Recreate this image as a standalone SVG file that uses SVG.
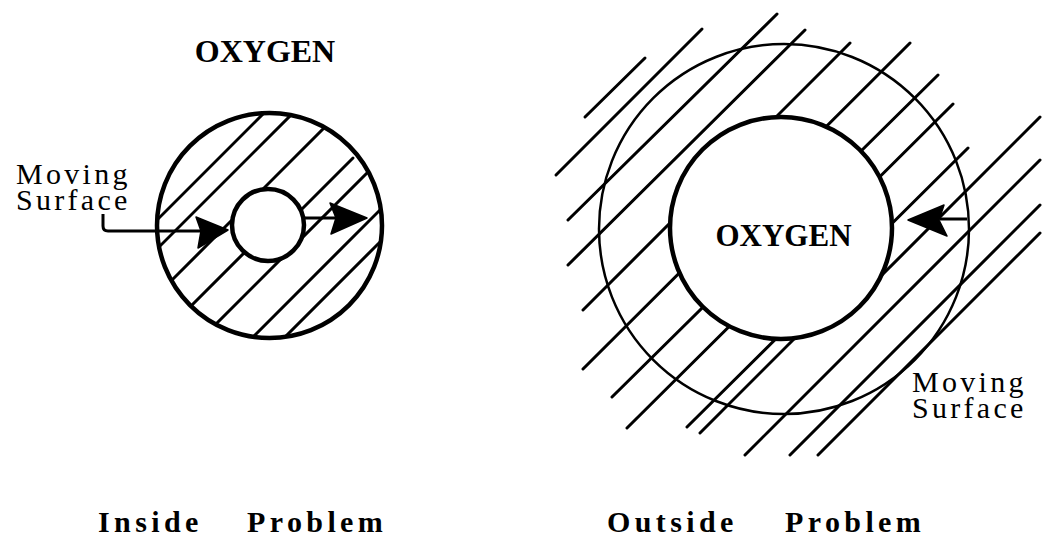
<svg xmlns="http://www.w3.org/2000/svg" width="1046" height="537" viewBox="0 0 1046 537">
<style>
.bg{fill:#fff}
.thick{fill:none;stroke:#000;stroke-width:4.5}
.thickw{fill:#fff;stroke:#000;stroke-width:4.5}
.thin{fill:none;stroke:#000;stroke-width:2.5}
.hatch{stroke:#000;stroke-width:3;stroke-linecap:round;fill:none}
.lead{stroke:#000;stroke-width:3;fill:none}
.head{fill:#000;stroke:#000;stroke-width:1.5;stroke-linejoin:round}
.ox{font-family:"Liberation Serif","Times New Roman",serif;font-weight:bold;font-size:32px;fill:#000}
.ms{font-family:"Liberation Serif","Times New Roman",serif;font-size:30px;letter-spacing:3.3px;fill:#000}
.cap{font-family:"Liberation Serif","Times New Roman",serif;font-weight:bold;font-size:30px;letter-spacing:4.4px;fill:#000}
</style>
<defs>
<clipPath id="clipL"><circle cx="269.5" cy="225.5" r="112.5"/></clipPath>
</defs>
<rect class="bg" x="0" y="0" width="1046" height="537"/>

<g id="inside-problem">
  <g id="inside-hatch" clip-path="url(#clipL)">
    <line class="hatch" x1="140" y1="237" x2="280" y2="97"/>
    <line class="hatch" x1="140" y1="266" x2="300" y2="106"/>
    <line class="hatch" x1="140" y1="312" x2="340" y2="112"/>
    <line class="hatch" x1="170" y1="327" x2="270" y2="227"/>
    <line class="hatch" x1="280" y1="231" x2="353" y2="158"/>
    <line class="hatch" x1="200" y1="340" x2="380" y2="160"/>
    <line class="hatch" x1="230" y1="360" x2="400" y2="190"/>
    <line class="hatch" x1="260" y1="362" x2="400" y2="222"/>
  </g>
  <circle id="inside-outer" class="thick" cx="269.5" cy="225.5" r="112.5"/>
  <circle id="inside-oxygen-core" class="thickw" cx="268" cy="225" r="36"/>
  <text class="ox" x="265" y="62" text-anchor="middle">OXYGEN</text>
</g>

<g id="inside-label">
  <text class="ms" x="16" y="184">Moving</text>
  <text class="ms" x="16" y="210">Surface</text>
</g>

<g id="outside-problem">
  <g id="outside-hatch">
    <line class="hatch" x1="585" y1="117" x2="645" y2="58"/>
    <line class="hatch" x1="556" y1="175" x2="702" y2="29"/>
    <line class="hatch" x1="568" y1="220" x2="777" y2="14"/>
    <line class="hatch" x1="568" y1="265" x2="805" y2="30"/>
    <line class="hatch" x1="583" y1="310" x2="850" y2="43"/>
    <line class="hatch" x1="583" y1="369" x2="910" y2="43"/>
    <line class="hatch" x1="612" y1="397" x2="938" y2="75"/>
    <line class="hatch" x1="627" y1="428" x2="953" y2="104"/>
    <line class="hatch" x1="687" y1="427" x2="968" y2="148"/>
    <line class="hatch" x1="700" y1="433" x2="810" y2="323"/>
    <line class="hatch" x1="870" y1="287" x2="1040" y2="117"/>
    <line class="hatch" x1="745" y1="455" x2="1040" y2="160"/>
    <line class="hatch" x1="790" y1="455" x2="1040" y2="205"/>
    <line class="hatch" x1="818" y1="455" x2="1040" y2="233"/>
  </g>
  <circle id="outside-outer" class="thin" cx="784" cy="229" r="185"/>
  <circle id="outside-oxygen-core" class="thickw" cx="781" cy="228" r="111"/>
  <text class="ox" x="783.5" y="246" text-anchor="middle" style="font-size:31px">OXYGEN</text>
</g>

<g id="outside-label">
  <text class="ms" x="912" y="392">Moving</text>
  <text class="ms" x="912" y="418">Surface</text>
</g>

<g id="connectors">
  <path class="lead" d="M103,214 V226 Q103,231 108,231 H202"/>
  <polygon class="head" points="228,230 196,217 201,231 198,248"/>
  <path class="lead" d="M303,218 H336"/>
  <polygon class="head" points="367,218 330,203 336,218 331,234"/>
  <path class="lead" d="M967,219 H940"/>
  <polygon class="head" points="908,220 944,205 939,220 947,236"/>
</g>

<g id="captions">
  <text class="cap" x="98" y="532">Inside</text>
  <text class="cap" x="247" y="532">Problem</text>
  <text class="cap" x="607" y="532">Outside</text>
  <text class="cap" x="785" y="532">Problem</text>
</g>
</svg>
